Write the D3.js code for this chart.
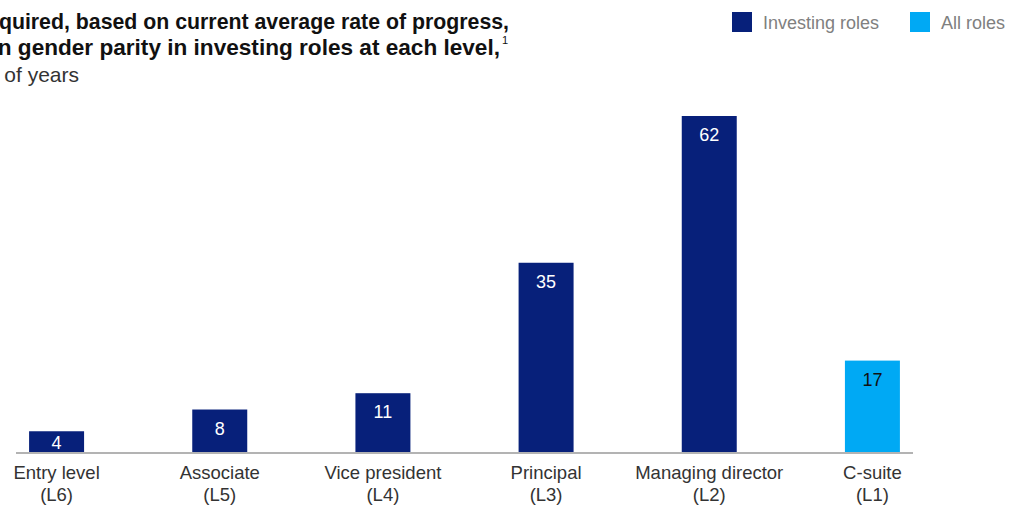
<!DOCTYPE html>
<html><head><meta charset="utf-8">
<script src="https://cdn.jsdelivr.net/npm/d3@7"></script>
<style>
body{margin:0;background:#fff;overflow:hidden}
svg{display:block;font-family:"Liberation Sans",Arial,sans-serif}
</style></head><body>
<svg id="c" width="1021" height="506"></svg>
<script>
const categories = ["Entry level", "Associate", "Vice president", "Principal", "Managing director", "C-suite"];
const levels = ["(L6)", "(L5)", "(L4)", "(L3)", "(L2)", "(L1)"];
const values = [4, 8, 11, 35, 62, 17];
const series = ["Investing roles", "Investing roles", "Investing roles", "Investing roles", "Investing roles", "All roles"];
const legendItems = ["Investing roles", "All roles"];
const titleLines = ["Years required, based on current average rate of progress,", "to attain gender parity in investing roles at each level,"];
const subtitle = "Number of years";

const colors = {"Investing roles": "#07207a", "All roles": "#00a9f4"};
const labelColors = {"Investing roles": "#ffffff", "All roles": "#111111"};

const svg = d3.select("#c");
const base = 453;
const x = d3.scaleBand().domain(categories).range([-25, 954]).paddingInner(0.663).paddingOuter(0.3315);
const y = d3.scaleLinear().domain([0, 62]).range([base, 116]);

// title (clipped on the left, as in the reference)
svg.append("text").attr("x", 509).attr("y", 29).attr("text-anchor", "end")
  .attr("font-size", 21.3).attr("font-weight", "bold").attr("fill", "#111").text(titleLines[0]);
svg.append("text").attr("x", 500).attr("y", 55).attr("text-anchor", "end")
  .attr("font-size", 22.6).attr("font-weight", "bold").attr("fill", "#111").text(titleLines[1]);
svg.append("text").attr("x", 502).attr("y", 44).attr("font-size", 11).attr("fill", "#111").text("1");
svg.append("text").attr("x", 79).attr("y", 82).attr("text-anchor", "end")
  .attr("font-size", 21).attr("fill", "#333").text(subtitle);

// legend
const legX = [732, 910];
legendItems.forEach((s, i) => {
  svg.append("rect").attr("x", legX[i]).attr("y", 12).attr("width", 20).attr("height", 20).attr("fill", colors[s]);
  svg.append("text").attr("x", legX[i] + 31).attr("y", 29).attr("font-size", 18).attr("fill", "#808080").text(s);
});

// bars
const data = categories.map((c, i) => ({c, v: values[i], s: series[i], l: levels[i]}));
svg.selectAll("rect.bar").data(data).join("rect").attr("class", "bar")
  .attr("x", d => x(d.c)).attr("width", x.bandwidth())
  .attr("y", d => y(d.v)).attr("height", d => base - y(d.v))
  .attr("fill", d => colors[d.s]);

svg.selectAll("text.val").data(data).join("text").attr("class", "val")
  .attr("x", d => x(d.c) + x.bandwidth() / 2)
  .attr("y", d => Math.min(y(d.v) + 25, base - 4))
  .attr("text-anchor", "middle").attr("font-size", 18)
  .attr("fill", d => labelColors[d.s]).text(d => d.v);

// axis line
svg.append("line").attr("x1", 16).attr("x2", 913).attr("y1", base).attr("y2", base)
  .attr("stroke", "#b3b3b3").attr("stroke-width", 2);

// category labels
const lab = svg.selectAll("text.cat").data(data).join("text").attr("class", "cat")
  .attr("text-anchor", "middle").attr("font-size", 18.5).attr("fill", "#333");
lab.append("tspan").attr("x", d => x(d.c) + x.bandwidth() / 2).attr("y", 479).text(d => d.c);
lab.append("tspan").attr("x", d => x(d.c) + x.bandwidth() / 2).attr("y", 501).text(d => d.l);
</script>
</body></html>
